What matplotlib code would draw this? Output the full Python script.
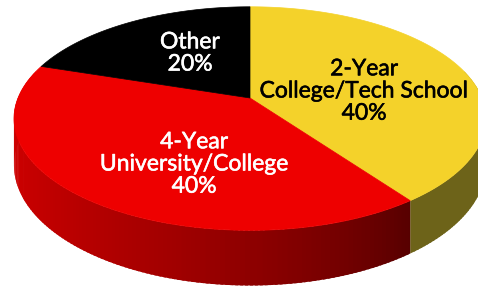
import numpy as np
import matplotlib.pyplot as plt
import matplotlib.patheffects as pe
from matplotlib.colors import to_rgb

# slices, clockwise from 12 o'clock
labels = ["2-Year\nCollege/Tech School", "4-Year\nUniversity/College", "Other"]
shares = [40, 40, 20]

top_colors = ["#F4D22A", "#EE0000", "#000000"]
side_light = ["#6D6319", "#D30000", "#111111"]
side_dark = ["#6D6319", "#560000", "#111111"]
text_colors = ["black", "white", "white"]
text_pos = [(364, 91), (194, 164), (190, 53)]

# perspective disc on screen (pixel coords, y down)
CX, CY = 250, 98
A, B = 232, 108
K = 0.184
H = 45


def proj(t, depth=0.0):
    u, v = np.cos(t), np.sin(t)
    d = 1 + K * v
    return CX + A * u / d, CY - B * v / d + depth / d


fig = plt.figure(figsize=(4.78, 2.88), dpi=100)
ax = fig.add_axes([0, 0, 1, 1])
ax.set_xlim(0, 478)
ax.set_ylim(288, 0)
ax.axis("off")

fracs = np.array(shares) / sum(shares)
edges = np.pi / 2 - 2 * np.pi * np.concatenate([[0], np.cumsum(fracs)])

# side wall, drawn back to front in thin strips
strips = []
vis_lo, vis_hi = np.deg2rad(-195), np.deg2rad(15)
pad = np.deg2rad(0.6)
for i in range(len(shares)):
    t0, t1 = edges[i], edges[i + 1]  # t0 > t1
    for off in (0, 2 * np.pi, -2 * np.pi):
        a, b = max(t1 + off, vis_lo), min(t0 + off, vis_hi)
        if a >= b:
            continue
        n = max(int(np.rad2deg(b - a)), 2)
        ts = np.linspace(a, b, n + 1)
        hi = t0 + off
        for j in range(n):
            tm = 0.5 * (ts[j] + ts[j + 1])
            s = np.clip((tm - vis_lo) / (hi - vis_lo), 0, 1) ** 2
            c = np.array(to_rgb(side_light[i])) * (1 - s) + np.array(to_rgb(side_dark[i])) * s
            # overlap neighbours a little so no seams show
            b2 = ts[j + 1] + (pad if j < n - 1 else 0)
            strips.append((np.sin(tm), ts[j], b2, c))

strips.sort(key=lambda r: -r[0])
for _, a, b, c in strips:
    tt = np.linspace(a, b, 4)
    xt, yt = proj(tt)
    xb, yb = proj(tt[::-1], H)
    ax.fill(np.r_[xt, xb], np.r_[yt, yb], color=c, lw=0)

# top face wedges
for i in range(len(shares)):
    tt = np.linspace(edges[i], edges[i + 1], 200)
    x, y = proj(tt)
    ax.fill(np.r_[CX, x], np.r_[CY, y], color=top_colors[i], lw=0.5, ec=top_colors[i])

for i in range(len(shares)):
    x, y = text_pos[i]
    ax.text(x, y, f"{labels[i]}\n{shares[i]}%", ha="center", va="center",
            color=text_colors[i], fontsize=16.5, family="Lato", linespacing=1.07,
            path_effects=[pe.withStroke(linewidth=0.4, foreground=text_colors[i])])

fig.savefig("out.png", dpi=100)
